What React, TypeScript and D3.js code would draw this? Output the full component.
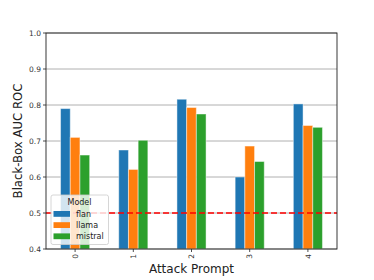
import React from "react";
import * as d3 from "d3";

const categories = ["0", "1", "2", "3", "4"];
const seriesNames = ["flan", "llama", "mistral"];
const flan = [0.79, 0.675, 0.816, 0.6, 0.803];
const llama = [0.71, 0.621, 0.793, 0.686, 0.743];
const mistral = [0.661, 0.702, 0.775, 0.643, 0.738];
const colors = ["#1f77b4", "#ff7f0e", "#2ca02c"];
const yTicks = [0.4, 0.5, 0.6, 0.7, 0.8, 0.9, 1.0];
const baseline = 0.5;

export default function App() {
  const W = 374, H = 280;
  const left = 46, right = 337, top = 33, bottom = 249;
  const series = [flan, llama, mistral];
  const x = d3.scaleLinear().domain([-0.5, categories.length - 0.5]).range([left, right]);
  const y = d3.scaleLinear().domain([0.4, 1.0]).range([bottom, top]);
  const bw = 0.5 / seriesNames.length;
  const font = "DejaVu Sans, sans-serif";

  return (
    <svg width={W} height={H} style={{ position: "absolute", left: 0, top: 0 }} fontFamily={font}>
      <rect x={0} y={0} width={W} height={H} fill="#fff" />
      {yTicks.map((t) => (
        <line key={"g" + t} x1={left} x2={right} y1={y(t)} y2={y(t)} stroke="#b0b0b0" strokeWidth={1} />
      ))}
      {series.map((vals, si) =>
        vals.map((v, ci) => {
          const cx = ci + (si - (seriesNames.length - 1) / 2) * bw;
          const x0 = x(cx - bw / 2), x1 = x(cx + bw / 2);
          return (
            <rect key={si + "-" + ci} x={x0} y={y(v)} width={x1 - x0} height={y(0.4) - y(v)}
              fill={colors[si]} stroke="#fff" strokeOpacity={0.45} strokeWidth={1} />
          );
        })
      )}
      <line x1={left} x2={right} y1={y(baseline)} y2={y(baseline)} stroke="#ff0000" strokeWidth={1.6} strokeDasharray="6,3" />
      {/* frame */}
      <rect x={left} y={top} width={right - left} height={bottom - top} fill="none" stroke="#222" strokeWidth={0.9} />
      {yTicks.map((t) => (
        <g key={"t" + t}>
          <line x1={left - 3} x2={left} y1={y(t)} y2={y(t)} stroke="#222" strokeWidth={0.8} />
          <text x={left - 5} y={y(t)} dy="0.35em" textAnchor="end" fontSize={7.5} fill="#333">{t.toFixed(1)}</text>
        </g>
      ))}
      {categories.map((c, i) => (
        <g key={"x" + c}>
          <line x1={x(i)} x2={x(i)} y1={bottom} y2={bottom + 3} stroke="#222" strokeWidth={0.8} />
          <text transform={`translate(${x(i)},${bottom + 5}) rotate(-90)`} dy="0.35em" textAnchor="end" fontSize={7.5} fill="#333">{c}</text>
        </g>
      ))}
      <text x={(left + right) / 2} y={273} textAnchor="middle" fontSize={12} fill="#222">Attack Prompt</text>
      <text transform={`translate(22,${(top + bottom) / 2}) rotate(-90)`} textAnchor="middle" fontSize={11.7} fill="#222">Black-Box AUC ROC</text>
      {/* legend */}
      <g>
        <rect x={51} y={195} width={57.5} height={49.5} rx={2} fill="#fff" fillOpacity={0.8} stroke="#cccccc" strokeWidth={0.8} />
        <text x={79.5} y={205} textAnchor="middle" fontSize={8} fill="#222">Model</text>
        {seriesNames.map((n, i) => (
          <g key={n}>
            <rect x={53.5} y={211 + i * 11.2} width={16.5} height={5.8} fill={colors[i]} />
            <text x={76} y={214 + i * 11.2} dy="0.35em" fontSize={8} fill="#222">{n}</text>
          </g>
        ))}
      </g>
    </svg>
  );
}
